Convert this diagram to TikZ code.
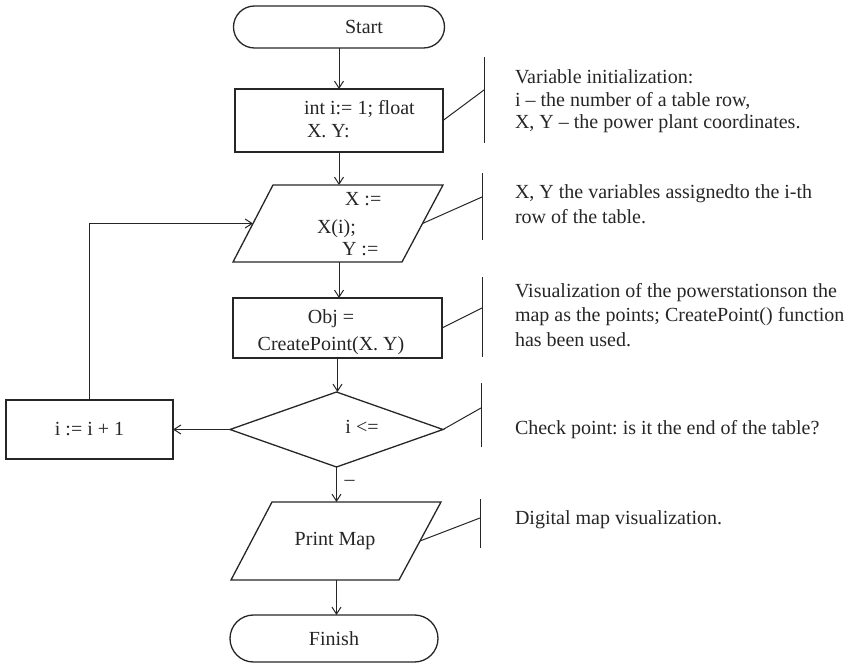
\documentclass[tikz,border=0pt]{standalone}
\usepackage{fontspec}
\setmainfont{Liberation Serif}
\usetikzlibrary{shapes.geometric,shapes.misc,arrows.meta,calc}
\begin{document}
\frenchspacing
\begin{tikzpicture}[x=1pt,y=-1pt,
  every node/.style={font=\fontsize{20}{23}\selectfont, inner sep=0pt, outer sep=0pt, text=black!85},
  shp/.style={draw=black!85, line width=1.3pt},
  term/.style={shp, rounded rectangle},
  proc/.style={shp, rectangle},
  dec/.style={shp, diamond},
  flow/.style={draw=black!85, line width=1pt, -{Straight Barb[length=7pt,width=9pt]}},
  link/.style={draw=black!85, line width=1pt},
  note/.style={anchor=base west, align=left},
]
\useasboundingbox (0,0) rectangle (855,663);

% shapes
\node[term, minimum width=211pt, minimum height=42pt] (start) at (339,27) {};
\node (startt) at (364,27) {Start};

\node[proc, minimum width=208pt, minimum height=63pt] (init) at (339,120.5) {};
\node[note] (initt) at (304,138) {int i:= 1; float\\\hspace{3pt}X. Y:};

% assignment parallelogram
\coordinate (asTL) at (273,185); \coordinate (asTR) at (443,185);
\coordinate (asBR) at (402,262); \coordinate (asBL) at (233,262);
\coordinate (asL) at ($(asTL)!0.5!(asBL)$);
\coordinate (asR) at ($(asTR)!0.5!(asBR)$);
\draw[shp, line join=miter] (asTL) -- (asTR) -- (asBR) -- (asBL) -- cycle;
\node[anchor=base west] (as1) at (345,206) {X :=};
\node[anchor=base west] (as2) at (317,234) {X(i);};
\node[anchor=base west] (as3) at (342,256) {Y :=};

\node[proc, minimum width=209pt, minimum height=60pt] (drawp) at (337.5,328) {};
\node[anchor=base, align=center, font=\fontsize{20}{28}\selectfont] (drawt) at (331,351) {Obj =\\CreatePoint(X. Y)};

\node[dec, minimum width=213pt, minimum height=75pt] (check) at (336.5,429.5) {};
\node[anchor=base] (checkt) at (362,433) {i <=};

\node[proc, minimum width=167pt, minimum height=59pt] (inc) at (89.5,429.5) {i := i + 1};

% print parallelogram
\coordinate (prTL) at (272,502); \coordinate (prTR) at (441,502);
\coordinate (prBR) at (399,580); \coordinate (prBL) at (231,580);
\coordinate (prR) at ($(prTR)!0.5!(prBR)$);
\draw[shp, line join=miter] (prTL) -- (prTR) -- (prBR) -- (prBL) -- cycle;
\node (print) at (335,541) {Print Map};

\node[term, minimum width=208pt, minimum height=47pt] (finish) at (334,638.5) {Finish};

% flow
\draw[flow] (start.south) -- (start.south |- init.north);
\draw[flow] (init.south) -- (init.south |- asTL);
\draw[flow] (init.south |- asBL) -- (init.south |- drawp.north);
\draw[flow] (drawp.south) -- (drawp.south |- check.north);
\draw[flow] (check.west) -- (check.west -| inc.east);
\draw[flow] (inc.north) |- (asL);
\draw[flow] (check.south) -- node[anchor=west, xshift=8pt, pos=0.45] (minus) {–} (check.south |- prTL);
\draw[flow] (check.south |- prBL) -- (check.south |- finish.north);

% notes
\coordinate (n1t) at (484,57);  \coordinate (n1b) at (484,143); \coordinate (n1j) at (484,90);
\coordinate (n2t) at (482,173); \coordinate (n2b) at (482,240); \coordinate (n2j) at (482,197);
\coordinate (n3t) at (482,277); \coordinate (n3b) at (482,357); \coordinate (n3j) at (482,308);
\coordinate (n4t) at (481,383); \coordinate (n4b) at (481,447); \coordinate (n4j) at (481,408);
\coordinate (n5t) at (480,499); \coordinate (n5b) at (480,548); \coordinate (n5j) at (480,518);

\draw[link] (n1t) -- (n1b); \draw[link] (init.east) -- (n1j);
\draw[link] (n2t) -- (n2b); \draw[link] (asR) -- (n2j);
\draw[link] (n3t) -- (n3b); \draw[link] (drawp.east) -- (n3j);
\draw[link] (n4t) -- (n4b); \draw[link] (check.east) -- (n4j);
\draw[link] (n5t) -- (n5b); \draw[link] (prR) -- (n5j);

\node[note, font=\fontsize{20}{22.5}\selectfont] (t1) at (515,129) {Variable initialization:\\i – the number of a table row,\\X, Y – the power plant coordinates.};
\node[note, font=\fontsize{20}{25}\selectfont] (t2) at (515,224) {X, Y the variables assignedto the i-th\\row of the table.};
\node[note, font=\fontsize{20}{25}\selectfont] (t3) at (515,347) {Visualization of the powerstationson the\\map as the points; CreatePoint() function\\has been used.};
\node[note] (t4) at (515,434) {Check point: is it the end of the table?};
\node[note] (t5) at (515,524) {Digital map visualization.};
\end{tikzpicture}
\end{document}
